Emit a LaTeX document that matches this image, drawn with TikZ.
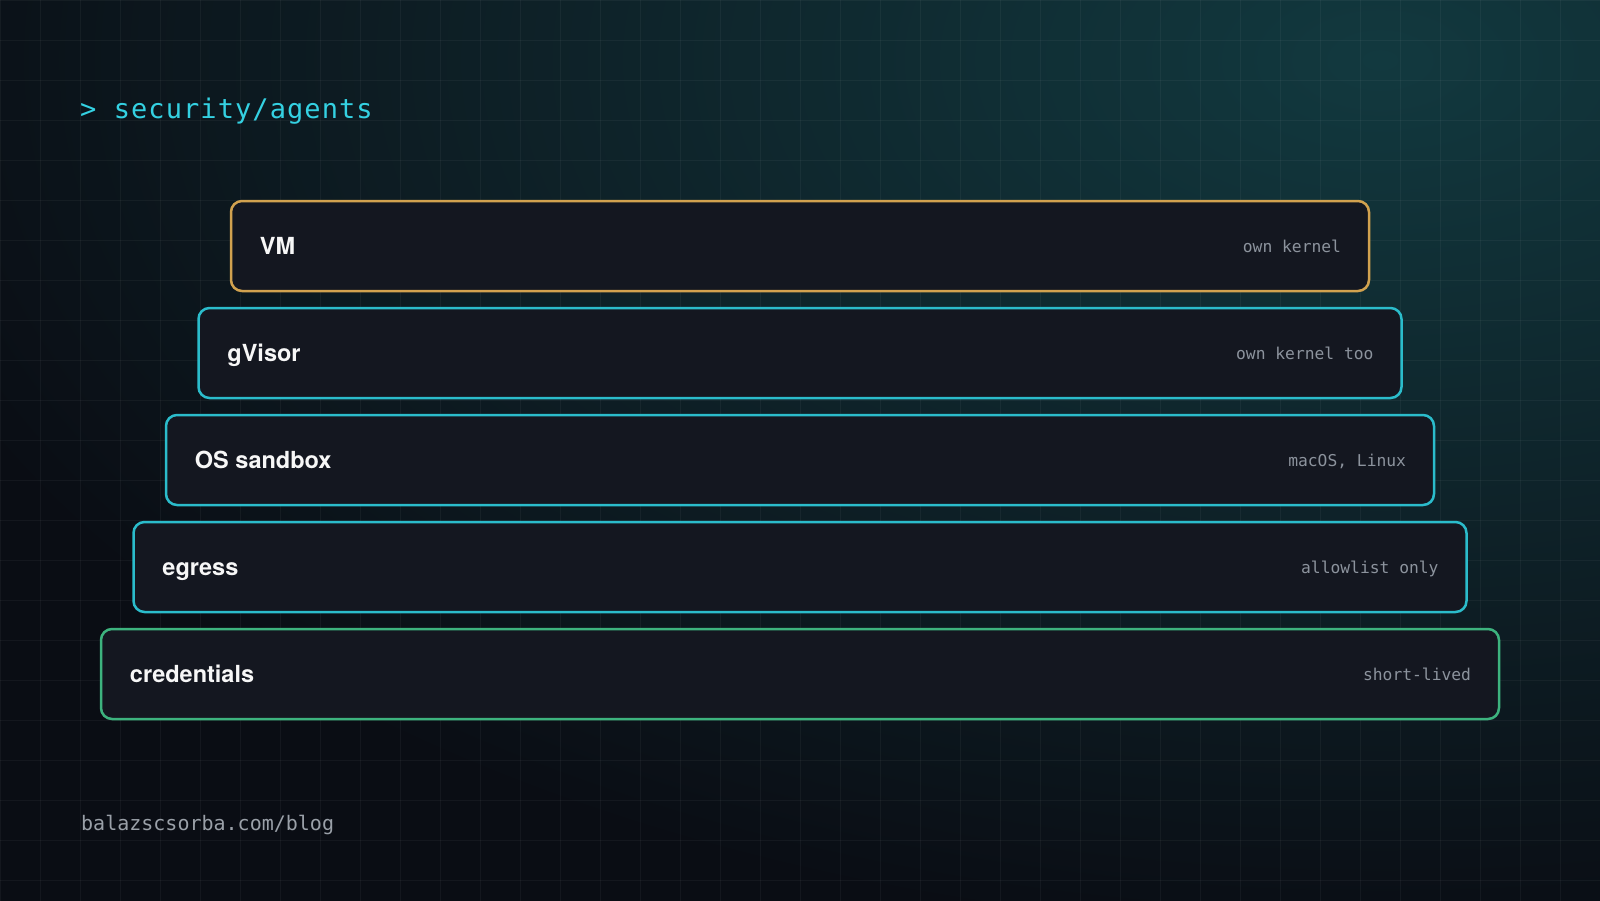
\documentclass[tikz,border=0pt]{standalone}
\usepackage{fontspec}
\setsansfont{TeX Gyre Heros}
\setmonofont{DejaVu Sans Mono}
\newfontfamily\promptfont[LetterSpace=4]{DejaVu Sans Mono}
\usetikzlibrary{positioning}

\definecolor{bg}{HTML}{0A0D14}
\definecolor{glow}{HTML}{12393F}
\definecolor{boxfill}{HTML}{141720}
\definecolor{amber}{HTML}{D2A24F}
\definecolor{cyanline}{HTML}{2BBCCB}
\definecolor{mint}{HTML}{3DB37E}
\definecolor{prompt}{HTML}{34D1E2}
\definecolor{muted}{HTML}{8C939D}
\definecolor{footer}{HTML}{9AA0A8}

\tikzset{
  layer/.style={draw=#1, line width=2.5pt, rounded corners=11pt, fill=boxfill,
    minimum height=90pt, inner sep=0pt},
  layername/.style={anchor=base west, inner sep=0pt, text=white!94!gray,
    font=\sffamily\bfseries\fontsize{23.5}{28}\selectfont},
  layertag/.style={anchor=base east, inner sep=0pt, text=muted,
    font=\ttfamily\fontsize{16.3}{20}\selectfont}
}

\begin{document}
\begin{tikzpicture}[x=1pt,y=-1pt]
  \useasboundingbox (0,0) rectangle (1600,900);
  \fill[bg] (-10,-10) rectangle (1610,910);
  \begin{scope}
    \clip (-10,-10) rectangle (1610,910);
    \shade[inner color=glow, outer color=bg] (1380,60) ellipse [x radius=1550, y radius=880]; % glow
  \end{scope}

  % grid
  \foreach \x in {0,40,...,1600}{
      \draw[white, opacity=0.045, line width=1pt] (\x,-10) -- (\x,910);
  }
  \foreach \y in {0,40,...,880}{
      \draw[white, opacity=0.045, line width=1pt] (-10,\y) -- (1610,\y);
  }

  \node[anchor=base west, inner sep=0pt, text=prompt,
    font=\promptfont\fontsize{27}{32}\selectfont] (title) at (80,118) {> security/agents};

  \foreach \n/\lab/\txt/\col [count=\i from 0] in {vm/VM/own kernel/amber,
      gvisor/gVisor/own kernel too/cyanline, os/OS sandbox/{macOS, Linux}/cyanline,
      egress/egress/allowlist only/cyanline, cred/credentials/short-lived/mint}{
      \node[layer=\col, minimum width={1138pt+65pt*\i}] (\n) at (800,246+107*\i) {};
      \node[layername] (\n-name) at ([xshift=30pt, yshift=-8pt]\n.west) {\lab};
      \node[layertag] (\n-tag) at ([xshift=-29pt, yshift=-6pt]\n.east) {\txt};
  }

  \node[anchor=base west, inner sep=0pt, text=footer,
    font=\ttfamily\fontsize{20}{24}\selectfont] (blog) at (81,830) {balazscsorba.com/blog};
\end{tikzpicture}
\end{document}
